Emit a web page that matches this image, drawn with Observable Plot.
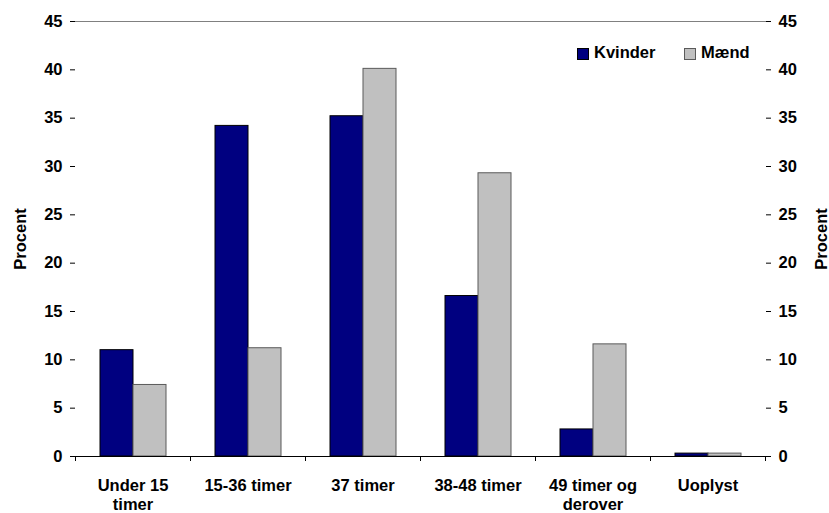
<!DOCTYPE html>
<html>
<head>
<meta charset="utf-8">
<script src="https://cdn.jsdelivr.net/npm/d3@7"></script>
<script src="https://cdn.jsdelivr.net/npm/@observablehq/plot@0.6"></script>
<style>
  html, body { margin: 0; padding: 0; background: #fff; }
  #chart { position: relative; width: 829px; height: 513px; }
  .legend { position: absolute; top: 0; left: 0; font: bold 16.5px "Liberation Sans", Arial, sans-serif; color: #000; }
  .legend .sw { position: absolute; width: 10px; height: 10px; top: 48px; box-sizing: content-box; }
  .legend .lb { position: absolute; top: 44px; line-height: 16.5px; white-space: nowrap; }
</style>
</head>
<body>
<div id="chart"></div>
<script>
// Weekly working hours by sex (percent)
const categories = ["Under 15\ntimer", "15-36 timer", "37 timer", "38-48 timer", "49 timer og\nderover", "Uoplyst"];
const series = ["Kvinder", "Mænd"];
const kvinder = [11.0, 34.2, 35.2, 16.6, 2.8, 0.3];
const maend = [7.4, 11.2, 40.1, 29.3, 11.6, 0.3];
const yTicks = [0, 5, 10, 15, 20, 25, 30, 35, 40, 45];

const fills = ["#000080", "#c0c0c0"];
const strokes = ["#000000", "#5a5a5a"];

const rows = categories.flatMap((category, i) => [
  {category, series: series[0], value: kvinder[i]},
  {category, series: series[1], value: maend[i]}
]);

const font = `"Liberation Sans", Arial, sans-serif`;

const yAxisOpts = {
  ticks: yTicks,
  tickSize: 5,
  tickPadding: 8,
  tickFormat: d => String(d),
  label: "Procent",
  labelAnchor: "center",
  labelArrow: "none",
  labelOffset: 61,
  line: true
};

const plot = Plot.plot({
  width: 829,
  height: 513,
  marginLeft: 73,
  marginRight: 63,
  marginTop: 21,
  marginBottom: 57,
  style: {fontFamily: font, fontSize: "16.5px", fontWeight: "bold", color: "#000", background: "#fff"},
  fx: {domain: categories, padding: 0, label: null},
  x: {domain: series, paddingInner: 0, paddingOuter: 0.737, axis: null},
  y: {domain: [0, 45], axis: null},
  color: {domain: series, range: fills},
  marks: [
    Plot.frame({anchor: "top", stroke: "#808080"}),
    Plot.barY(rows, {
      fx: "category",
      x: "series",
      y: "value",
      fill: "series",
      stroke: d => strokes[series.indexOf(d.series)],
      strokeWidth: 1
    }),
    Plot.ruleY([0], {stroke: "#000"}),
    Plot.axisY({anchor: "left", ...yAxisOpts}),
    Plot.axisY({anchor: "right", ...yAxisOpts}),
    Plot.axisFx({anchor: "bottom", tickSize: 0, tickPadding: 20, label: null, lineHeight: 1.2})
  ]
});

// Category boundary ticks below the baseline
const fx = plot.scale("fx");
const y = plot.scale("y");
const y0 = y.apply(0);
const edges = categories.map(c => fx.apply(c)).concat([fx.apply(categories[categories.length - 1]) + fx.bandwidth]);
d3.select(plot).append("g")
  .attr("stroke", "#000")
  .selectAll("line")
  .data(edges)
  .join("line")
  .attr("x1", d => Math.round(d) + 0.5)
  .attr("x2", d => Math.round(d) + 0.5)
  .attr("y1", y0)
  .attr("y2", y0 + 5);

const chart = document.getElementById("chart");
chart.appendChild(plot);

// Legend inside the plot area
const legend = document.createElement("div");
legend.className = "legend";
const legendItems = [
  {name: series[0], sw: 577, lb: 594},
  {name: series[1], sw: 684, lb: 701}
];
legendItems.forEach((item, i) => {
  const sw = document.createElement("div");
  sw.className = "sw";
  sw.style.left = item.sw + "px";
  sw.style.background = fills[i];
  sw.style.border = `1px solid ${strokes[i]}`;
  const lb = document.createElement("div");
  lb.className = "lb";
  lb.style.left = item.lb + "px";
  lb.textContent = item.name;
  legend.appendChild(sw);
  legend.appendChild(lb);
});
chart.appendChild(legend);
</script>
</body>
</html>
